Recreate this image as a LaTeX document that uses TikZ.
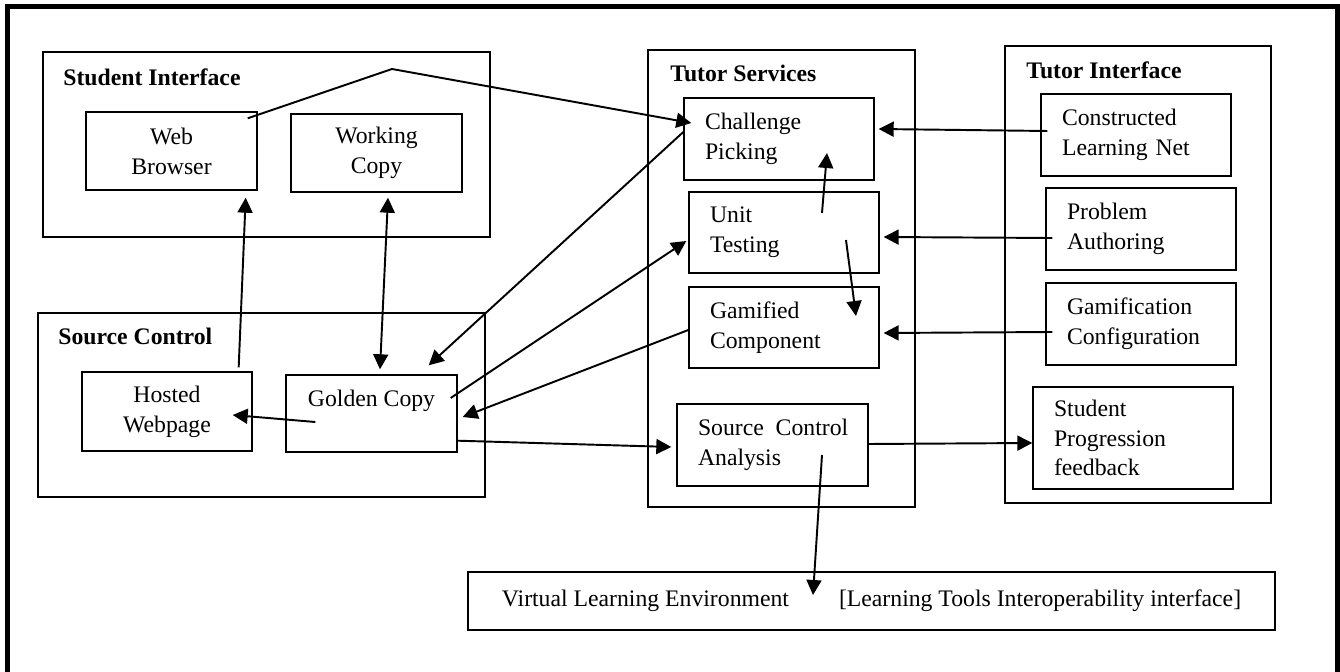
\documentclass[tikz,border=0pt]{standalone}
\usepackage{fontspec}
\setmainfont{Liberation Serif}
\usetikzlibrary{arrows.meta}

\tikzset{
  box/.style={draw, line width=0.8pt, inner sep=0pt, font=\fontsize{13.5}{17}\selectfont},
  cbox/.style={box, align=center},
  lbox/.style={box, align=left, inner xsep=0.42cm, text width=#1},
  group/.style={draw, line width=0.8pt},
  title/.style={anchor=base west, inner sep=0pt, font=\bfseries\fontsize{13.5}{17}\selectfont},
  arr/.style={line width=1.1pt, -{Triangle[length=0.3cm, width=0.3cm]}},
  twoarr/.style={line width=1.1pt, {Triangle[length=0.3cm, width=0.3cm]}-{Triangle[length=0.3cm, width=0.3cm]}},
}

\begin{document}
\begin{tikzpicture}[x=0.02cm, y=-0.02cm]
\useasboundingbox (0,0) rectangle (1340,672);

% Outer frame
\draw[line width=0.1cm] (7.5,672) -- (7.5,6.5) -- (1337.5,6.5) -- (1337.5,672);

% Group boxes and their titles
\node[group, minimum width=8.94cm, minimum height=3.7cm] (stuif) at (266.5,144.5) {};
\node[group, minimum width=8.94cm, minimum height=3.68cm] (srcctl) at (261.5,405) {};
\node[group, minimum width=5.34cm, minimum height=9.14cm] (tutsvc) at (781.5,278.5) {};
\node[group, minimum width=5.32cm, minimum height=9.14cm] (tutif) at (1138,274.5) {};

\node[title] (stuiftitle) at (63,86) {Student Interface};
\node[title] (srcctltitle) at (58,345) {Source Control};
\node[title] (tutsvctitle) at (670,82) {Tutor Services};
\node[title] (tutiftitle) at (1026,79) {Tutor Interface};

% Student interface
\node[cbox, minimum width=3.42cm, minimum height=1.56cm] (web) at (171.5,151) {Web\\Browser};
\node[cbox, minimum width=3.42cm, minimum height=1.56cm] (working) at (376.5,153) {Working\\Copy};

% Source control
\node[cbox, minimum width=3.4cm, minimum height=1.58cm] (hosted) at (167,411.5) {Hosted\\Webpage};
\node[cbox, minimum width=3.42cm, minimum height=1.54cm] (golden) at (371.5,413.5) {Golden Copy\\\mbox{}};

% Tutor services
\node[lbox=2.96cm, minimum height=1.64cm] (challenge) at (779,139) {Challenge\\Picking};
\node[lbox=2.96cm, minimum height=1.62cm] (unittest) at (784,232.5) {Unit\\Testing};
\node[lbox=2.96cm, minimum height=1.62cm] (gamified) at (784,327.5) {Gamified\\Component};
\node[lbox=2.98cm, minimum height=1.64cm] (sca) at (772.5,445) {Source~\,Control\\Analysis};

% Tutor interface
\node[lbox=2.96cm, minimum height=1.64cm] (construct) at (1136,135) {Constructed\\Learning Net};
\node[lbox=2.96cm, minimum height=1.64cm] (authoring) at (1141,229) {Problem\\Authoring};
\node[lbox=2.96cm, minimum height=1.64cm] (gamconf) at (1141,324) {Gamification\\Configuration};
\node[lbox=3.16cm, minimum height=2.04cm] (progress) at (1133,438) {Student\\Progression\\feedback};

% Learning environment
\node[box, minimum width=16.14cm, minimum height=1.16cm] (vle) at (871.5,601)
  {Virtual Learning Environment\hspace{1cm}[Learning Tools Interoperability interface]\hspace{0.36cm}};

% Arrows
\coordinate (peak) at (392,69);
\draw[arr] ([shift={(-10,7)}]web.north east) -- (peak) -- ([shift={(8,-16)}]challenge.west);
\draw[arr] ([shift={(-14,-4)}]hosted.north east) -- ([shift={(-12,7)}]web.south east);
\draw[twoarr] ([shift={(11.5,5)}]working.south) -- ([shift={(8.5,-5)}]golden.north);
\draw[arr] ([shift={(30,8.5)}]golden.west) -- ([shift={(-20,3.5)}]hosted.east);
\draw[arr] ([shift={(0,-7)}]challenge.west) -- ([shift={(-29,-9)}]golden.north east);
\draw[arr] ([shift={(-7,-15.5)}]golden.east) -- ([shift={(-2,8.5)}]unittest.west);
\draw[arr] ([shift={(0,2.5)}]gamified.west) -- ([shift={(5,3.5)}]golden.east);
\draw[arr] ([shift={(0,-12)}]golden.south east) -- ([shift={(-5,2)}]sca.west);
\draw[arr] ([shift={(38,-19.5)}]unittest.center) -- ([shift={(48,14)}]challenge.center);
\draw[arr] ([shift={(62,7.5)}]unittest.center) -- ([shift={(72,-11.5)}]gamified.center);

\foreach \src/\dst/\sy/\dy in {construct/challenge/-4/-10, authoring/unittest/9/4.5, gamconf/gamified/8/5.5} {
    \draw[arr] ([shift={(7,\sy)}]\src.west) -- ([shift={(4,\dy)}]\dst.east);
}

\draw[arr] ([shift={(0,-1)}]sca.east) -- ([shift={(0,5)}]progress.west);
\draw[arr] ([shift={(49.5,10)}]sca.center) -- ([shift={(-58.5,-6)}]vle.center);

\end{tikzpicture}
\end{document}
